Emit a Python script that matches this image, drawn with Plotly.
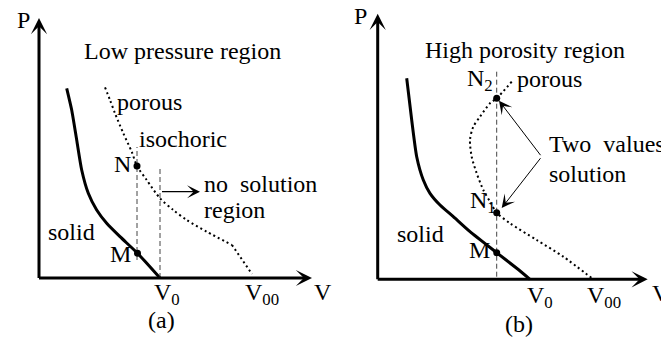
import plotly.graph_objects as go

# ---------------- data (schematic units: V right, P up, origin at axes corner) -------------
# Panel (a): low pressure region
solid_a_V = [27.7, 32.7, 37.7, 42.7, 49.3, 57.7, 67.7, 81.0, 98.5, 121.0]
solid_a_P = [189.7, 168.0, 138.0, 108.0, 84.7, 68.0, 54.7, 41.3, 24.8, 0.0]
porous_a_V = [66.0, 71.0, 76.0, 84.3, 92.7, 98.0, 107.7, 121.0, 134.3, 147.7, 167.7, 193.0]
porous_a_P = [190.7, 178.0, 164.7, 144.7, 126.3, 112.0, 98.0, 79.7, 68.0, 58.0, 46.3, 33.0]
porous_a_tail_V = [193.0, 213.0]
porous_a_tail_P = [33.0, 4.0]
iso_a_P = [18.0, 131.0]          # isochoric dashed line through M and N
v0_a_P = [0.0, 111.5]            # dashed line at V0
arrow_a_V = [121.5, 161.0]
arrow_a_P = [86.3, 86.3]
axis_a_V = [0.0, 273.0]
axis_a_P = [0.0, 260.0]
idx_N_a, idx_M_a = 5, 8

# Panel (b): high porosity region
solid_b_V = [29.0, 34.0, 39.0, 45.6, 52.3, 62.3, 75.6, 92.3, 119.0, 139.0, 152.3]
solid_b_P = [201.0, 159.3, 122.6, 99.3, 86.0, 74.3, 62.6, 47.6, 26.6, 11.0, 0.0]
porous_b_V = [134.0, 119.0, 112.3, 102.3, 95.6, 92.3, 94.0, 99.0, 105.6, 112.3, 119.0, 132.3, 159.0, 185.6, 215.6]
porous_b_P = [197.6, 181.0, 176.0, 162.6, 152.6, 139.3, 122.6, 106.0, 89.3, 77.6, 66.6, 56.0, 39.3, 22.6, 0.0]
iso_b_P = [2.6, 207.6]
two_val_from = (164.0, 122.6)
idx_N2_b, idx_N1_b, idx_M_b = 1, 10, 8
axis_b_V = [0.0, 270.0]
axis_b_P = [0.0, 265.5]

FONT = "Liberation Serif, Times New Roman, DejaVu Serif, serif"
FS = 24

fig = go.Figure()

def add_panel(xa, ya, sV, sP, dotted_parts, dashed, points):
    fig.add_trace(go.Scatter(x=sV, y=sP, mode="lines", xaxis=xa, yaxis=ya,
                             line=dict(color="black", width=3, shape="spline", smoothing=0.6),
                             hoverinfo="skip"))
    for (dv, dp, shp) in dotted_parts:
        fig.add_trace(go.Scatter(x=dv, y=dp, mode="lines", xaxis=xa, yaxis=ya,
                                 line=dict(color="black", width=2, dash="2px,3px", shape=shp, smoothing=0.8),
                                 hoverinfo="skip"))
    for (dv, dp) in dashed:
        fig.add_trace(go.Scatter(x=dv, y=dp, mode="lines", xaxis=xa, yaxis=ya,
                                 line=dict(color="#444", width=1, dash="5px,3px"), hoverinfo="skip"))
    fig.add_trace(go.Scatter(x=[p[0] for p in points], y=[p[1] for p in points], mode="markers",
                             xaxis=xa, yaxis=ya, marker=dict(color="black", size=7), hoverinfo="skip"))

N_a = (porous_a_V[idx_N_a], porous_a_P[idx_N_a])
M_a = (solid_a_V[idx_M_a], solid_a_P[idx_M_a])
add_panel("x", "y", solid_a_V, solid_a_P,
          [(porous_a_V, porous_a_P, "spline"), (porous_a_tail_V, porous_a_tail_P, "linear")],
          [([N_a[0], N_a[0]], iso_a_P), ([solid_a_V[-1], solid_a_V[-1]], v0_a_P)],
          [N_a, M_a])

N2_b = (porous_b_V[idx_N2_b], porous_b_P[idx_N2_b])
N1_b = (porous_b_V[idx_N1_b], porous_b_P[idx_N1_b])
M_b = (solid_b_V[idx_M_b], solid_b_P[idx_M_b])
add_panel("x2", "y2", solid_b_V, solid_b_P,
          [(porous_b_V, porous_b_P, "spline")],
          [([N2_b[0], N2_b[0]], iso_b_P)],
          [N2_b, N1_b, M_b])

ann = []

def arrow(xr, yr, tail, head, w, size):
    ann.append(dict(xref=xr, yref=yr, axref=xr, ayref=yr, x=head[0], y=head[1],
                    ax=tail[0], ay=tail[1], text="", showarrow=True, arrowhead=3,
                    arrowwidth=w, arrowsize=size, arrowcolor="black", standoff=0))

def label(xr, yr, x, y, t, xa="left"):
    ann.append(dict(xref=xr, yref=yr, x=x, y=y, text=t, showarrow=False, xanchor=xa,
                    yanchor="middle", font=dict(family=FONT, size=FS, color="black")))

# axes arrows
arrow("x", "y", (axis_a_V[0] - 1.5, 0), (axis_a_V[1], 0), 3, 0.9)
arrow("x", "y", (0, axis_a_P[0] - 1.5), (0, axis_a_P[1]), 3, 0.9)
arrow("x2", "y2", (axis_b_V[0] - 1.5, 0), (axis_b_V[1], 0), 3, 0.9)
arrow("x2", "y2", (0, axis_b_P[0] - 1.5), (0, axis_b_P[1]), 3, 0.9)
# thin arrows
arrow("x", "y", (arrow_a_V[0], arrow_a_P[0]), (arrow_a_V[1], arrow_a_P[1]), 1.2, 1.8)
arrow("x2", "y2", two_val_from, (N2_b[0] + 2.3, N2_b[1] - 2.4), 1, 2.2)
arrow("x2", "y2", two_val_from, (N1_b[0] + 5.0, N1_b[1] + 4.7), 1, 2.2)

# panel (a) texts
label("x", "y", 42.7, 227, "Low pressure region")
label("x", "y", 76, 176, "porous")
label("x", "y", 98, 139.3, "isochoric")
label("x", "y", 83, 114, "N", "center")
label("x", "y", 81, 24, "M", "center")
label("x", "y", 32.7, 46, "solid", "center")
label("x", "y", 162.7, 94.3, "no\u00a0\u00a0solution")
label("x", "y", 162.7, 68, "region")
label("x", "y", 112.7, -16, "V<sub>0</sub>")
label("x", "y", 204, -16, "V<sub>00</sub>")
label("x", "y", 272.7, -14, "V")
label("x", "y", 122, -42, "(a)", "center")
label("x", "y", -24, 258, "P")

# panel (b) texts
label("x2", "y2", 45.6, 229.3, "High porosity region")
label("x2", "y2", 87.3, 199.3, "N<sub>2</sub>")
label("x2", "y2", 137.3, 200.6, "porous")
label("x2", "y2", 169.6, 135.6, "Two\u00a0\u00a0values")
label("x2", "y2", 169.6, 105.6, "solution")
label("x2", "y2", 90.6, 77.3, "N<sub>1</sub>")
label("x2", "y2", 89, 29.3, "M")
label("x2", "y2", 17.3, 45.6, "solid")
label("x2", "y2", 147.3, -17.7, "V<sub>0</sub>")
label("x2", "y2", 207.3, -17.7, "V<sub>00</sub>")
label("x2", "y2", 272.3, -13.7, "V")
label("x2", "y2", 141.3, -44.7, "(b)", "center")
label("x2", "y2", -25.7, 263.3, "P")

hidden = dict(visible=False, showgrid=False, zeroline=False, fixedrange=True)
fig.update_layout(
    width=661, height=341, margin=dict(l=0, r=0, t=0, b=0),
    paper_bgcolor="white", plot_bgcolor="white", showlegend=False,
    font=dict(family=FONT, size=FS, color="black"),
    xaxis=dict(domain=[0, 330 / 661], range=[-39, 291], **hidden),
    yaxis=dict(domain=[0, 1], range=[-63, 278], **hidden),
    xaxis2=dict(domain=[330 / 661, 1], range=[-47.7, 283.3], **hidden),
    yaxis2=dict(domain=[0, 1], range=[-61.7, 279.3], anchor="x2", **hidden),
    annotations=ann,
)
fig.write_html("out.html")
